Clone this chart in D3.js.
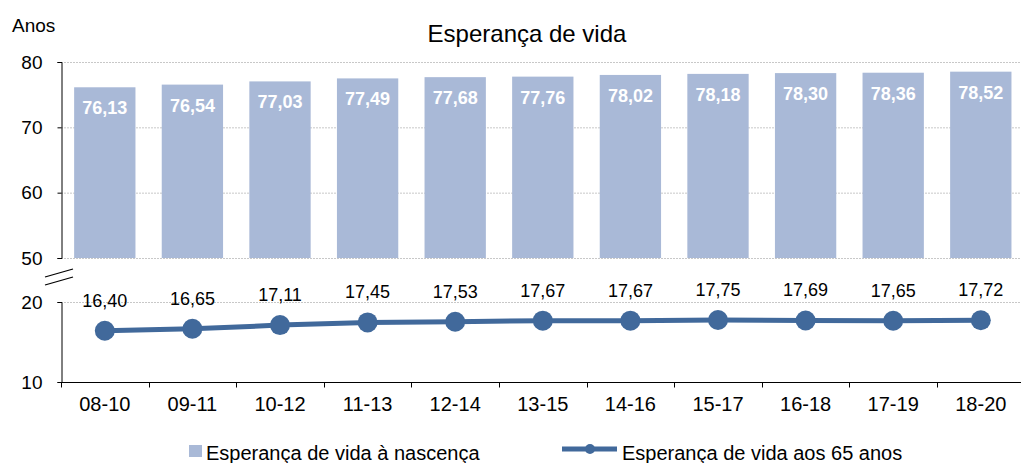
<!DOCTYPE html>
<html>
<head>
<meta charset="utf-8">
<script src="https://cdn.jsdelivr.net/npm/d3@7"></script>
<style>
  body { margin: 0; background: #fff; }
  text { font-family: "Liberation Sans", Arial, sans-serif; }
</style>
</head>
<body>
<div id="chart"></div>
<script>
// Esperança de vida: barras (nascença) + linha (aos 65 anos)
const periods = ["08-10", "09-11", "10-12", "11-13", "12-14", "13-15", "14-16", "15-17", "16-18", "17-19", "18-20"];
const birthValues = [76.13, 76.54, 77.03, 77.49, 77.68, 77.76, 78.02, 78.18, 78.30, 78.36, 78.52];
const age65Values = [16.40, 16.65, 17.11, 17.45, 17.53, 17.67, 17.67, 17.75, 17.69, 17.65, 17.72];
const topTicks = [50, 60, 70, 80];
const bottomTicks = [10, 20];

const width = 1021, height = 463;
const barColor = "#a9b9d7", lineColor = "#41699b";
const fmt = d => d.toFixed(2).replace(".", ",");

const svg = d3.select("#chart").append("svg")
  .attr("width", width)
  .attr("height", height);

const x = d3.scaleBand()
  .domain(periods)
  .range([61, 61 + 87.6 * periods.length])
  .paddingInner(0.3)
  .paddingOuter(0.15);

const yTop = d3.scaleLinear().domain([50, 80]).range([258, 62]);
const yBot = d3.scaleLinear().domain([10, 20]).range([382, 302]);

// title + unit
svg.append("text").attr("x", 527).attr("y", 42).attr("text-anchor", "middle")
  .attr("font-size", 24).text("Esperança de vida");
svg.append("text").attr("x", 12).attr("y", 32).attr("font-size", 19).text("Anos");

// grid lines
function grid(scale, ticks) {
  svg.append("g").selectAll("line").data(ticks).enter().append("line")
    .attr("x1", 61).attr("x2", width)
    .attr("y1", d => scale(d) + 0.5).attr("y2", d => scale(d) + 0.5)
    .attr("stroke", "#c8c8c8").attr("stroke-dasharray", "2,1");
}
grid(yTop, topTicks);
grid(yBot, [20]);

// bars
svg.append("g").selectAll("rect").data(birthValues).enter().append("rect")
  .attr("x", (d, i) => x(periods[i]))
  .attr("y", d => yTop(d))
  .attr("width", x.bandwidth())
  .attr("height", d => yTop(50) - yTop(d))
  .attr("fill", barColor);

svg.append("g").selectAll("text").data(birthValues).enter().append("text")
  .attr("x", (d, i) => x(periods[i]) + x.bandwidth() / 2)
  .attr("y", d => yTop(d) + 27)
  .attr("text-anchor", "middle")
  .attr("font-size", 18).attr("font-weight", "bold").attr("fill", "#fff")
  .text(fmt);

// axes
const leftTop = svg.append("g").attr("transform", "translate(61.5,0)")
  .call(d3.axisLeft(yTop).tickValues(topTicks).tickSize(4).tickPadding(15).tickFormat(d3.format("d")));
const leftBot = svg.append("g").attr("transform", "translate(61.5,0)")
  .call(d3.axisLeft(yBot).tickValues(bottomTicks).tickSize(4).tickPadding(15).tickFormat(d3.format("d")));
[leftTop, leftBot].forEach(a => {
  a.select(".domain").attr("stroke", "#000");
  a.selectAll(".tick line").attr("stroke", "#000");
  a.selectAll("text").attr("font-size", 19).attr("fill", "#000")
    .attr("font-family", "Liberation Sans, Arial, sans-serif");
});

const bottom = svg.append("g").attr("transform", "translate(0,382.5)")
  .call(d3.axisBottom(x).tickSize(0).tickPadding(14));
bottom.select(".domain").attr("d", `M61,0H${width}`).attr("stroke", "#000");
bottom.selectAll("text").attr("font-size", 20).attr("fill", "#000")
  .attr("font-family", "Liberation Sans, Arial, sans-serif");
// boundary ticks
const step = x.step();
bottom.append("g").selectAll("line").data(d3.range(periods.length + 1)).enter().append("line")
  .attr("x1", i => Math.round(61 + i * step) + 0.5).attr("x2", i => Math.round(61 + i * step) + 0.5)
  .attr("y1", 0).attr("y2", 5).attr("stroke", "#000");

// axis break marks
svg.append("g").selectAll("line").data([0, 8]).enter().append("line")
  .attr("x1", 45).attr("x2", 73)
  .attr("y1", d => 277 + d).attr("y2", d => 269 + d)
  .attr("stroke", "#000").attr("stroke-width", 1.2);

// line series
const cx = (d, i) => x(periods[i]) + x.bandwidth() / 2;
const line = d3.line().x(cx).y(d => yBot(d));
svg.append("path").datum(age65Values)
  .attr("d", line).attr("fill", "none")
  .attr("stroke", lineColor).attr("stroke-width", 5);
svg.append("g").selectAll("circle").data(age65Values).enter().append("circle")
  .attr("cx", cx).attr("cy", d => yBot(d)).attr("r", 10).attr("fill", lineColor);
svg.append("g").selectAll("text").data(age65Values).enter().append("text")
  .attr("x", cx).attr("y", d => yBot(d) - 24)
  .attr("text-anchor", "middle").attr("font-size", 18)
  .text(fmt);

// legend
const lg = svg.append("g");
lg.append("rect").attr("x", 189).attr("y", 445).attr("width", 13).attr("height", 12).attr("fill", barColor);
lg.append("text").attr("x", 206).attr("y", 460).attr("font-size", 20).text("Esperança de vida à nascença");
lg.append("line").attr("x1", 562).attr("x2", 617).attr("y1", 449).attr("y2", 449)
  .attr("stroke", lineColor).attr("stroke-width", 5);
lg.append("circle").attr("cx", 590).attr("cy", 449).attr("r", 5).attr("fill", lineColor);
lg.append("text").attr("x", 622).attr("y", 460).attr("font-size", 20).text("Esperança de vida aos 65 anos");
</script>
</body>
</html>
